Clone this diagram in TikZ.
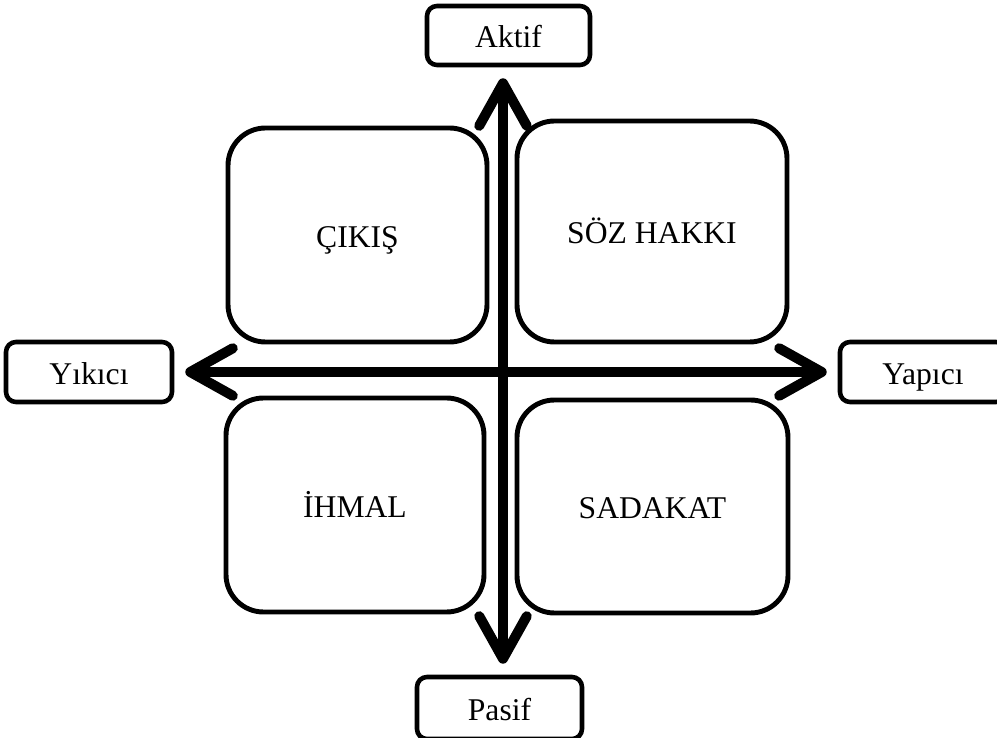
\documentclass[tikz,border=0pt]{standalone}
\usepackage{fontspec}
\setmainfont{Liberation Serif}
\usetikzlibrary{arrows.meta,positioning,calc}

\begin{document}
\begin{tikzpicture}[
  font=\fontsize{18}{21}\selectfont,
  quad/.style={rounded corners=7.5mm,draw=black,fill=white,align=center,
    line width=2.8pt,text height=14pt,text depth=0pt},
  pole/.style={rounded corners=2mm,draw=black,fill=white,align=center,
    line width=2.6pt,minimum width=3.3cm,minimum height=1.2cm,
    text height=14pt,text depth=0pt},
  arr/.style={<->,>={Straight Barb[length=8.5mm,width=9.5mm,round]},
    line width=5.7pt,shorten <=2.2mm,shorten >=2.2mm}]
\useasboundingbox (0,0) rectangle (19.94,-14.76);

\node[quad,minimum width=5.18cm,minimum height=4.28cm] (cikis) at (7.15,-4.70)
  {ÇIKIŞ};
\node[quad,minimum width=5.40cm,minimum height=4.42cm] (soz) at (13.04,-4.63)
  {SÖZ HAKKI};
\node[quad,minimum width=5.16cm,minimum height=4.28cm] (ihmal) at (7.10,-10.10)
  {İHMAL};
\node[quad,minimum width=5.42cm,minimum height=4.26cm] (sadakat) at (13.05,-10.13)
  {SADAKAT};

\node[pole,minimum width=3.26cm,minimum height=1.18cm] (aktif) at (10.17,-0.71)
  {Aktif};
\node[pole,minimum height=1.24cm] (pasif) at (9.99,-14.16) {Pasif};
\node[pole,minimum width=3.32cm] (yikici) at (1.78,-7.44) {Yıkıcı};
\node[pole,minimum width=3.32cm] (yapici) at (18.46,-7.44) {Yapıcı};

% crossing point of the two axes
\coordinate (o) at (10.06,-7.44);
\draw[arr] (o |- pasif.north) -- (o |- aktif.south);
\draw[arr] (yikici.east) -- (yapici.west);
\end{tikzpicture}
\end{document}
